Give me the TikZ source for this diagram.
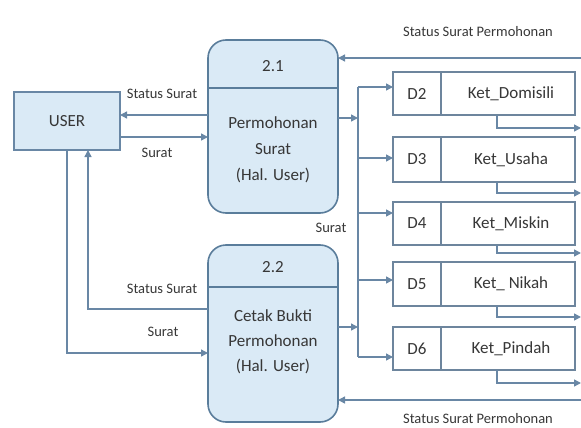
\documentclass[tikz,border=0pt]{standalone}
\usepackage{fontspec}
\setmainfont{Carlito}
\usetikzlibrary{arrows.meta}
\definecolor{ln}{RGB}{105,135,165}
\definecolor{pfill}{RGB}{218,234,246}
\definecolor{pborder}{RGB}{90,125,155}
\definecolor{txt}{RGB}{55,55,55}
\tikzset{
  flow/.style={draw=ln, line width=1.4pt, -{Triangle[length=7pt,width=7pt]}},
  plain/.style={draw=ln, line width=1.4pt},
  proc/.style={draw=pborder, fill=pfill, line width=1.6pt, rounded corners=18pt},
  store/.style={draw=ln!80!gray, line width=1.1pt, fill=white},
  lbl/.style={text=txt, font=\fontsize{14.5}{17}\selectfont, inner sep=1pt},
  ptxt/.style={text=txt, font=\fontsize{17}{26}\selectfont, align=center}
}
\begin{document}
\begin{tikzpicture}[x=1pt,y=-1pt]
\useasboundingbox (0,0) rectangle (581,428);
% USER
\node[draw=ln, line width=1.4pt, fill=pfill, minimum width=106pt, minimum height=58pt, text=txt, font=\fontsize{17}{20}\selectfont] (user) at (67,121) {USER};
% processes
\draw[proc] (208,40) rectangle (338,213);
\draw[draw=pborder, line width=1.3pt] (208,88) -- (338,88);
\node[ptxt] (p1n) at (273,66) {2.1};
\node[ptxt] (p1) at (273,150) {Permohonan\\Surat\\(Hal. User)};
\coordinate (p1r) at (338,118);
\draw[proc] (208,245) rectangle (338,422);
\draw[draw=pborder, line width=1.3pt] (208,287) -- (338,287);
\node[ptxt, font=\fontsize{17}{25}\selectfont] (p2n) at (273,267) {2.2};
\node[ptxt, font=\fontsize{17}{25}\selectfont] (p2) at (273,342) {Cetak Bukti\\Permohonan\\(Hal. User)};
\coordinate (p2r) at (338,327);
% USER <-> 2.1
\coordinate (p1l1) at (208,115);
\coordinate (p1l2) at (208,137);
\draw[flow] (p1l1) -- (120,115);
\draw[flow] (120,137) -- (p1l2);
\node[lbl] (l1) at (162,94) {Status Surat};
\node[lbl] (l2) at (157,153) {Surat};
% USER <-> 2.2
\coordinate (p2l1) at (208,309);
\coordinate (p2l2) at (208,353);
\draw[flow] (p2l1) -- (88,309) -- (88,150);
\draw[flow] (67,150) -- (67,353) -- (p2l2);
\node[lbl] (l3) at (162,289) {Status Surat};
\node[lbl] (l4) at (163,332) {Surat};
% stores
\foreach \n/\t/\ya/\yb/\yr/\ys in {D2/Ket\_Domisili/72/115/128/87, D3/Ket\_Usaha/137/182/193/158, D4/Ket\_Miskin/202/245/253/213, D5/Ket\_ Nikah/262/306/317/280, D6/Ket\_Pindah/327/370/383/357}{
  \draw[store] (393,\ya) rectangle (575,\yb);
  \draw[draw=ln!80!gray, line width=1.1pt] (441,\ya) -- (441,\yb);
  \node[ptxt] (\n) at (417,{(\ya+\yb)/2}) {\n};
  \node[ptxt] (\n-name) at (511,{(\ya+\yb)/2}) {\t};
  \coordinate (\n-in) at (393,\ys);
  \coordinate (\n-bus) at (358,\ys);
  \coordinate (\n-bot) at (497,\yb);
  \coordinate (\n-out) at (581,\yr);
  \draw[flow] (\n-bot) -- (497,\yr) -- (\n-out);
  \draw[flow] (\n-bus) -- (\n-in);
}
% bus
\coordinate (bus1) at (358,118);
\coordinate (bus2) at (358,327);
\draw[plain] (D2-bus) -- (D6-bus);
\draw[flow] (p1r) -- (bus1);
\draw[flow] (p2r) -- (bus2);
\node[lbl] (l5) at (331,228) {Surat};
% status from right
\coordinate (r1) at (581,58);
\coordinate (r2) at (581,400);
\draw[flow] (r1) -- (338,58);
\draw[flow] (r2) -- (338,400);
\node[lbl] (l6) at (478,32) {Status Surat Permohonan};
\node[lbl] (l7) at (478,419) {Status Surat Permohonan};
\end{tikzpicture}
\end{document}
